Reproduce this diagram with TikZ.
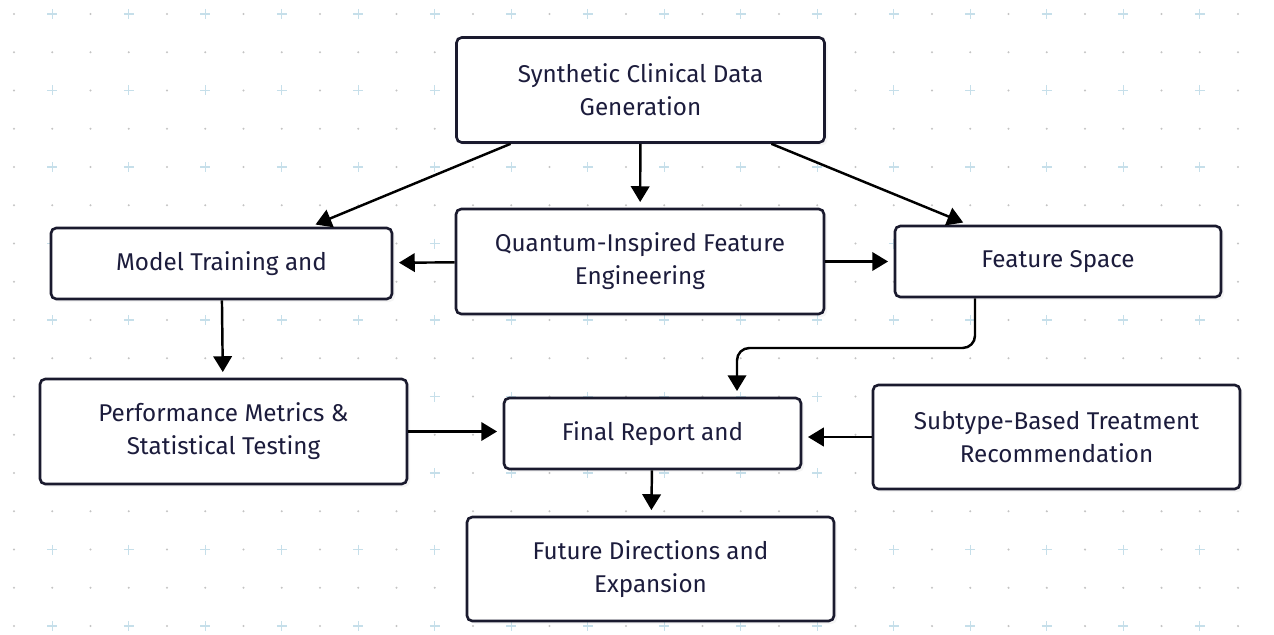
\documentclass[tikz,border=0pt]{standalone}
\usepackage{fontspec}
\setmainfont{Fira Sans}
\usetikzlibrary{arrows.meta,shadows}

\definecolor{ink}{HTML}{1A1A2E}
\definecolor{txt}{HTML}{1C1C3C}
\definecolor{plusblue}{HTML}{C6DFEA}
\definecolor{dotgray}{HTML}{C4C4C4}

\tikzset{
  stepbox/.style={draw=ink, line width=1.5pt, fill=white, rounded corners=3pt,
    align=center, text=txt, font=\fontsize{13.8}{18.7}\selectfont,
    drop shadow={shadow xshift=0.06cm, shadow yshift=-0.06cm, opacity=0.08}},
  flow/.style={draw=black, line width=1.4pt, -{Triangle[length=9pt,width=10.5pt]},
    shorten >=3.2pt},
}

\begin{document}
\begin{tikzpicture}[x=0.02cm, y=-0.02cm]
  \def\px{0.02cm}
  \def\g{38.25}
  \useasboundingbox (0,0) rectangle (1274,635);
  \foreach \j in {0,2,...,16}
  \foreach \i in {0,2,...,32}
  \fill[dotgray] ({14+\g*\i},{14+\g*\j}) circle (0.7pt);
  \foreach \j in {1,3,...,15}
  \foreach \i in {0,...,32}
  \fill[dotgray] ({14+\g*\i},{14+\g*\j}) circle (0.7pt);
  \foreach \j in {0,2,...,16}
  \foreach \i in {1,3,...,31}
  \draw[plusblue, line width=0.6pt]
  ({14+\g*\i-5},{14+\g*\j}) -- ({14+\g*\i+5},{14+\g*\j})
  ({14+\g*\i},{14+\g*\j-5}) -- ({14+\g*\i},{14+\g*\j+5});

  \node[stepbox, minimum width=368*\px, minimum height=105*\px] (syn) at (640.5,90)
  {Synthetic Clinical Data\\Generation};
  \node[stepbox, minimum width=341*\px, minimum height=71*\px] (mod) at (221.5,263.5)
  {Model Training and};
  \node[stepbox, minimum width=368*\px, minimum height=105*\px] (qua) at (640,261.5)
  {Quantum-Inspired Feature\\Engineering};
  \node[stepbox, minimum width=326*\px, minimum height=71*\px] (fea) at (1058,261.5)
  {Feature Space};
  \node[stepbox, minimum width=367*\px, minimum height=105*\px] (per) at (223.5,431.5)
  {Performance Metrics \&\\Statistical Testing};
  \node[stepbox, minimum width=297*\px, minimum height=71*\px] (fin) at (652.5,433.5)
  {Final Report and};
  \node[stepbox, minimum width=367*\px, minimum height=104*\px] (sub) at (1056.5,437)
  {Subtype-Based Treatment\\Recommendation};
  \node[stepbox, minimum width=367*\px, minimum height=104*\px] (fut) at (650.5,569)
  {Future Directions and\\Expansion};

  \coordinate (bendA) at (975,348);
  \coordinate (bendB) at (737,348);

  \draw[flow] (syn) -- (mod);
  \draw[flow] (syn) -- (qua);
  \draw[flow] (syn) -- (fea);
  \draw[flow] (qua) -- (mod);
  \draw[flow] (qua) -- (fea);
  \draw[flow] (mod) -- (per);
  \draw[flow, rounded corners=7pt] (bendA |- fea.south) -- (bendA) -- (bendB) -- (bendB |- fin.north);
  \draw[flow] (per.east) -- (per.east -| fin.west);
  \draw[flow] (sub.west) -- (sub.west -| fin.east);
  \draw[flow] (fin) -- (fut);
\end{tikzpicture}
\end{document}
